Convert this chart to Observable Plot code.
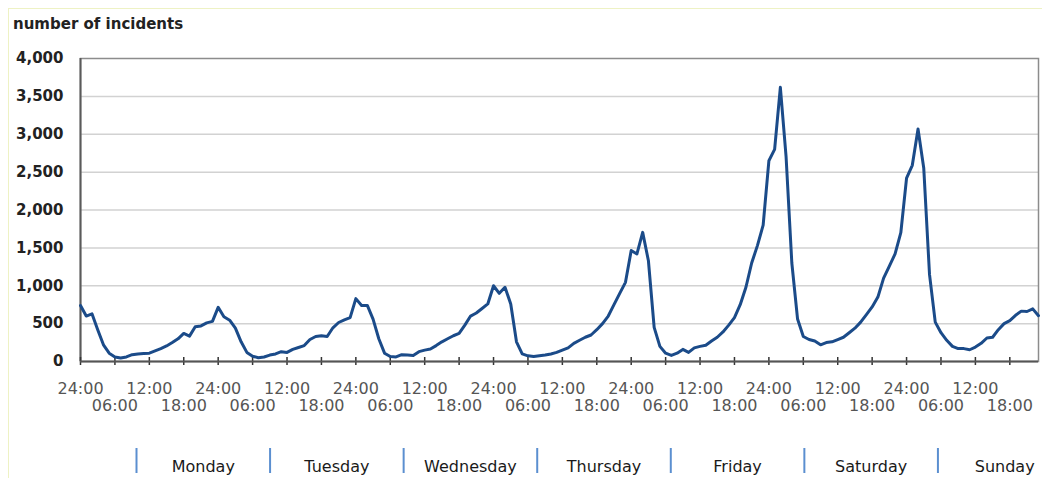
<!DOCTYPE html>
<html>
<head>
<meta charset="utf-8">
<script src="https://cdn.jsdelivr.net/npm/d3@7"></script>
<script src="https://cdn.jsdelivr.net/npm/@observablehq/plot@0.6"></script>
<style>
  html, body { margin: 0; padding: 0; background: #fff; }
  #wrap { position: relative; width: 1042px; height: 478px; overflow: hidden; font-family: "DejaVu Sans", Verdana, sans-serif; }
  #border { position: absolute; left: 8px; top: 8px; width: 1200px; height: 700px; border-left: 1px solid #eef2c4; border-top: 1px solid #eef2c4; }
  #title { position: absolute; left: 13px; top: 17px; font-size: 15px; line-height: 15px; font-weight: bold; color: #222; white-space: nowrap; }
  #main, #days { position: absolute; left: 0; }
  #main { top: 0; }
  #days { top: 410px; }
  svg { display: block; overflow: visible; }
</style>
</head>
<body>
<div id="wrap">
  <div id="border"></div>
  <div id="main"></div>
  <div id="days"></div>
  <div id="title">number of incidents</div>
</div>
<script>
// hourly incident counts, Monday 00:00 (index 0) to Sunday 23:00 (index 167)
const incidents = [
  740, 600, 630, 420, 220, 110, 60, 45, 60, 90, 100, 105,
  110, 140, 170, 205, 250, 300, 370, 335, 460, 470, 510, 530,
  715, 590, 545, 440, 260, 120, 70, 50, 60, 85, 100, 130,
  120, 160, 185, 210, 290, 330, 340, 330, 445, 515, 550, 580,
  830, 740, 740, 560, 300, 110, 65, 60, 90, 85, 80, 130,
  150, 165, 210, 260, 300, 340, 370, 480, 600, 640, 700, 760,
  1000, 900, 980, 760, 260, 100, 75, 65, 75, 85, 100, 120,
  150, 180, 240, 280, 320, 350, 420, 500, 600, 750, 900, 1045,
  1465, 1420, 1705, 1330, 450, 200, 110, 80, 110, 160, 120, 180,
  200, 215, 270, 320, 390, 480, 580, 750, 980, 1300, 1530, 1800,
  2650, 2800, 3620, 2700, 1300, 560, 330, 290, 270, 220, 250, 260,
  290, 320, 380, 440, 520, 620, 720, 850, 1100, 1260, 1420, 1700,
  2420, 2590, 3070, 2550, 1150, 520, 380, 280, 200, 170, 170, 155,
  190, 240, 310, 320, 420, 500, 540, 610, 665, 660, 695, 605
];
const hours = incidents.map((d, i) => i);

const yTicks = [0, 500, 1000, 1500, 2000, 2500, 3000, 3500, 4000];
const gridTicks = [500, 1000, 1500, 2000, 2500, 3000, 3500];

const xTicks = [0, 6, 12, 18, 24, 30, 36, 42, 48, 54, 60, 66, 72, 78, 84, 90, 96, 102, 108, 114, 120, 126, 132, 138, 144, 150, 156, 162];
const upperTickHours = [0, 12, 24, 36, 48, 60, 72, 84, 96, 108, 120, 132, 144, 156];
const upperTickLabels = ["24:00", "12:00", "24:00", "12:00", "24:00", "12:00", "24:00", "12:00", "24:00", "12:00", "24:00", "12:00", "24:00", "12:00"];
const lowerTickHours = [6, 18, 30, 42, 54, 66, 78, 90, 102, 114, 126, 138, 150, 162];
const lowerTickLabels = ["06:00", "18:00", "06:00", "18:00", "06:00", "18:00", "06:00", "18:00", "06:00", "18:00", "06:00", "18:00", "06:00", "18:00"];

const days = ["Monday", "Tuesday", "Wednesday", "Thursday", "Friday", "Saturday", "Sunday"];
const dayStarts = [0, 1, 2, 3, 4, 5, 6];
const dayCenters = [0.5, 1.5, 2.5, 3.5, 4.5, 5.5, 6.5];

const series = hours.map((h, i) => ({h, v: incidents[i]}));
const upper = upperTickHours.map((h, i) => ({h, label: upperTickLabels[i]}));
const lower = lowerTickHours.map((h, i) => ({h, label: lowerTickLabels[i]}));

const main = Plot.plot({
  width: 1042,
  height: 410,
  marginLeft: 80,
  marginRight: 4,
  marginTop: 58,
  marginBottom: 49,
  style: {fontFamily: "DejaVu Sans, Verdana, sans-serif", background: "transparent", overflow: "visible"},
  x: {domain: [0, 167]},
  y: {domain: [0, 4000]},
  marks: [
    Plot.gridY(gridTicks, {stroke: "#d2d2d2", strokeOpacity: 1, strokeWidth: 1.5}),
    Plot.frame({stroke: "#8c8c8c", strokeWidth: 1.5}),
    Plot.axisY(yTicks, {tickSize: 0, tickPadding: 17, tickFormat: d3.format(","), fontSize: 15, fontWeight: "bold", color: "#222", label: null}),
    Plot.axisX({ticks: [], label: null, tickSize: 0, tickFormat: () => ""}),
    Plot.ruleX([0], {stroke: "#5a5a5a", strokeWidth: 2}),
    Plot.ruleX(xTicks, {y1: 0, y2: 0, insetTop: -4, insetBottom: -4, stroke: "#333", strokeWidth: 1.5}),
    Plot.ruleY([0], {stroke: "#555", strokeWidth: 2}),
    Plot.line(series, {x: "h", y: "v", stroke: "#1b4b89", strokeWidth: 3, strokeLinejoin: "round", curve: "linear"}),
    Plot.text(upper, {x: "h", text: "label", frameAnchor: "bottom", dy: 27, lineAnchor: "middle", fontSize: 16, fill: "#555"}),
    Plot.text(lower, {x: "h", text: "label", frameAnchor: "bottom", dy: 44, lineAnchor: "middle", fontSize: 16, fill: "#555"})
  ]
});
document.getElementById("main").appendChild(main);

const dayRow = Plot.plot({
  width: 1042,
  height: 68,
  marginTop: 38,
  marginBottom: 5,
  marginLeft: 0,
  marginRight: 0,
  style: {fontFamily: "DejaVu Sans, Verdana, sans-serif", background: "transparent", overflow: "visible"},
  x: {domain: [0, 7], range: [136, 1071], axis: null},
  marks: [
    Plot.ruleX(dayStarts, {stroke: "#5b8fd0", strokeWidth: 2}),
    Plot.text(dayCenters, {x: d => d, text: (d, i) => days[i], frameAnchor: "middle", dy: 6, lineAnchor: "middle", fontSize: 16, fill: "#1a1a1a"})
  ]
});
document.getElementById("days").appendChild(dayRow);
</script>
</body>
</html>
